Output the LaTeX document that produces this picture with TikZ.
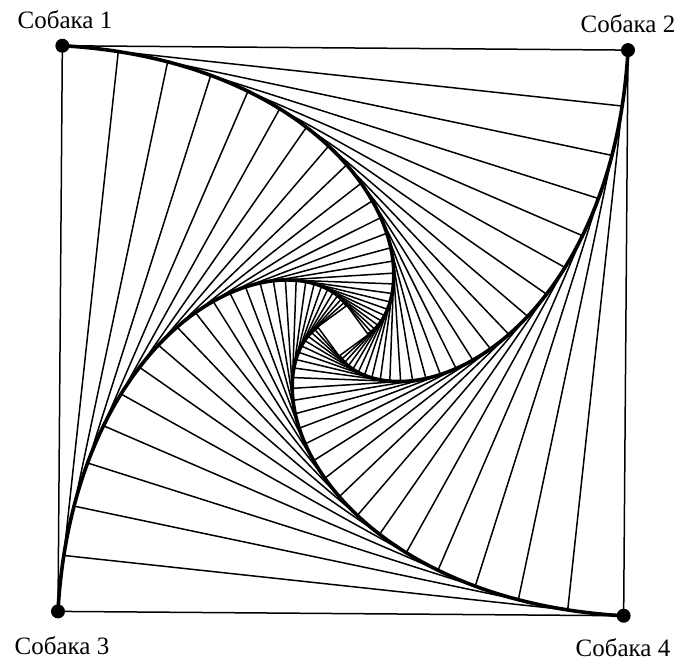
\documentclass[tikz,border=0pt]{standalone}
\usepackage{fontspec}
\setmainfont{Liberation Serif}
\begin{document}
\begin{tikzpicture}[x=1pt,y=1pt,
  side/.style={line width=1.5pt, black},
  pathline/.style={line width=3.6pt, black, line cap=round, line join=round},
  dogdot/.style={circle, fill=black, inner sep=0pt, minimum size=14pt},
  doglabel/.style={font=\fontsize{25}{27}\selectfont, inner sep=0pt}]
\useasboundingbox (-343,-330.25) rectangle (338,330.75);
% successive squares formed by the four dogs
\foreach \k in {0,...,25}{
  \pgfmathsetmacro\r{400*exp(-0.11*\k)}
  \pgfmathsetmacro\a{-0.44-5.72958*\k}
  \draw[side] (\a+135:\r) -- (\a+45:\r) -- (\a-45:\r) -- (\a-135:\r) -- cycle;
}
% pursuit curves
\foreach \b in {135,45,-45,-135}{
  \draw[pathline] plot[domain=0:2.5, samples=150, variable=\t] ({\b-0.44-\t*57.2958}:{400*exp(-1.1*\t)});
}
% dogs
\coordinate (c1) at (134.56:400);
\coordinate (c2) at (44.56:400);
\coordinate (c4) at (-45.44:400);
\coordinate (c3) at (-135.44:400);
\node[dogdot] (d1) at (c1) {};
\node[dogdot] (d2) at (c2) {};
\node[dogdot] (d4) at (c4) {};
\node[dogdot] (d3) at (c3) {};
\node[doglabel] (l1) at (-278,310.75) {Собака 1};
\node[doglabel] (l2) at (285,306.75) {Собака 2};
\node[doglabel] (l3) at (-281,-315.25) {Собака 3};
\node[doglabel] (l4) at (280,-317.25) {Собака 4};
\end{tikzpicture}
\end{document}
